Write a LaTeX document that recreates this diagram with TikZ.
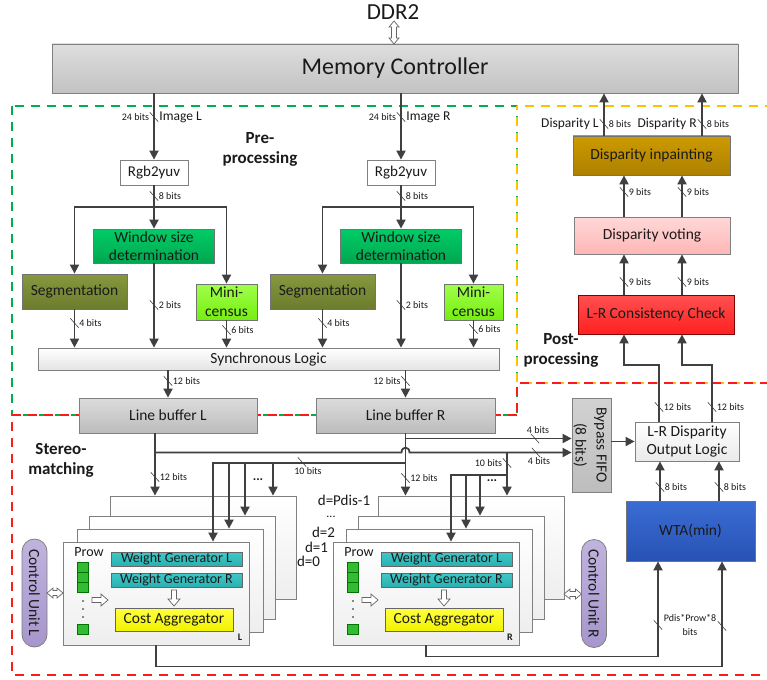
\documentclass[tikz,border=0pt]{standalone}
\usepackage{fontspec}
\setmainfont{Carlito}
\usetikzlibrary{arrows.meta,calc}
\definecolor{lineC}{HTML}{404040}
\definecolor{bordC}{HTML}{808080}
\definecolor{txtC}{HTML}{1A1A1A}
\definecolor{grnD}{HTML}{00B050}
\definecolor{orgD}{HTML}{FFC000}
\definecolor{redD}{HTML}{FF1A1A}
\definecolor{mcT}{HTML}{DEDEDE}\definecolor{mcB}{HTML}{C2C2C2}
\definecolor{winT}{HTML}{00CC66}\definecolor{winB}{HTML}{00A850}
\definecolor{segT}{HTML}{86983F}\definecolor{segB}{HTML}{6C7C2E}
\definecolor{mcsT}{HTML}{A0FF4A}\definecolor{mcsB}{HTML}{76EE10}
\definecolor{synT}{HTML}{FFFFFF}\definecolor{synB}{HTML}{E4E4E4}
\definecolor{lbT}{HTML}{DCDCDC}\definecolor{lbB}{HTML}{BCBCBC}
\definecolor{peT}{HTML}{FFFFFF}\definecolor{peB}{HTML}{EEEEEE}
\definecolor{wgT}{HTML}{40C8C8}\definecolor{wgB}{HTML}{2AB0B0}
\definecolor{caT}{HTML}{FFFF40}\definecolor{caB}{HTML}{F2F200}
\definecolor{cuT}{HTML}{C0B3DE}\definecolor{cuB}{HTML}{A696CC}
\definecolor{wtaT}{HTML}{3A6DD4}\definecolor{wtaB}{HTML}{2852B4}
\definecolor{olT}{HTML}{FFFFFF}\definecolor{olB}{HTML}{EAEAEA}
\definecolor{lrT}{HTML}{FF5050}\definecolor{lrB}{HTML}{FF2020}
\definecolor{voT}{HTML}{FFD8D8}\definecolor{voB}{HTML}{FFB6B6}
\definecolor{inT}{HTML}{CC9A00}\definecolor{inB}{HTML}{AD8000}
\definecolor{fiT}{HTML}{D2D2D2}\definecolor{fiB}{HTML}{BDBDBD}
\definecolor{sqC}{HTML}{33BB33}
\tikzset{
  box/.style={draw=bordC, line width=0.8pt, inner sep=0pt, align=center, text=txtC, font=\fontsize{15.5}{18}\selectfont},
  wh/.style 2 args={minimum width=#1pt, minimum height=#2pt},
  grad/.style 2 args={top color=#1, bottom color=#2},
  conn/.style={draw=lineC, line width=1.8pt, -{Triangle[length=9pt,width=9pt]}},
  slash/.style={minimum width=8pt, minimum height=9pt, inner sep=0pt, append after command={(\tikzlastnode.north west) edge[draw=lineC, line width=0.6pt] (\tikzlastnode.south east)}},
  bitlab/.style={font=\fontsize{10}{12}\selectfont, text=txtC, inner sep=0.5pt},
  imglab/.style={font=\fontsize{13.5}{16}\selectfont, text=txtC, inner sep=1pt},
  head/.style={font=\bfseries\fontsize{17}{20}\selectfont, text=txtC, align=center, inner sep=0pt},
  txt/.style={text=txtC, inner sep=0pt},
  hollow/.style={draw=black!60, line width=0.7pt, fill=white, line join=miter},
  dashbox/.style={line width=1.6pt, dash pattern=on 9pt off 7pt},
  sq/.style={draw=black!55!green, fill=sqC, minimum width=11pt, minimum height=10pt, inner sep=0pt, line width=0.6pt},
  pe/.style={box, wh={186}{103}, grad={peT}{peB}},
  cu/.style={box, wh={25}{108}, rounded corners=12.5pt, grad={cuT}{cuB}, draw=black!50}
}
\newcommand{\myHDbl}[3]{\draw[hollow] (#2,#1) -- (#2+6,#1-5) -- (#2+6,#1-2.5) -- (#3-6,#1-2.5) -- (#3-6,#1-5) -- (#3,#1) -- (#3-6,#1+5) -- (#3-6,#1+2.5) -- (#2+6,#1+2.5) -- (#2+6,#1+5) -- cycle;}
\newcommand{\myVDbl}[3]{\draw[hollow] (#1,#2) -- (#1+5,#2+6) -- (#1+2.5,#2+6) -- (#1+2.5,#3-6) -- (#1+5,#3-6) -- (#1,#3) -- (#1-5,#3-6) -- (#1-2.5,#3-6) -- (#1-2.5,#2+6) -- (#1-5,#2+6) -- cycle;}
\newcommand{\myRArr}[3]{\draw[hollow] (#2,#1-2.5) -- (#3-7,#1-2.5) -- (#3-7,#1-6) -- (#3,#1) -- (#3-7,#1+6) -- (#3-7,#1+2.5) -- (#2,#1+2.5) -- cycle;}
\newcommand{\myDArr}[3]{\draw[hollow] (#1-2.5,#2) -- (#1+2.5,#2) -- (#1+2.5,#3-7) -- (#1+6,#3-7) -- (#1,#3) -- (#1-6,#3-7) -- (#1-2.5,#3-7) -- cycle;}
\newcommand{\myPEin}[3]{%
  \node[txt, font=\fontsize{14}{16}\selectfont] (prow#1) at (89+#2,552) {Prow};
  \node[sq] (sqa#1) at (82.5+#2,567.5) {};
  \node[sq] (sqb#1) at (82.5+#2,577.5) {};
  \node[sq] (sqc#1) at (82.5+#2,587.5) {};
  \node[sq] (sqd#1) at (82.5+#2,629) {};
  \fill[txtC] (83+#2,601) circle (0.8pt) (83+#2,609) circle (0.8pt) (83+#2,617) circle (0.8pt);
  \myRArr{600}{92+#2}{108+#2}
  \node[box, wh={131}{14}, grad={wgT}{wgB}, draw=black!60, font=\fontsize{14}{16}\selectfont] (wgl#1) at (176.5+#2,559) {Weight Generator L};
  \node[box, wh={131}{14}, grad={wgT}{wgB}, draw=black!60, font=\fontsize{14}{16}\selectfont] (wgr#1) at (176.5+#2,580) {Weight Generator R};
  \myDArr{174+#2}{590}{606}
  \node[box, wh={118}{23}, grad={caT}{caB}, draw=black!60] (ca#1) at (174+#2,619.5) {Cost Aggregator};
  \node[txt, font=\bfseries\fontsize{10}{12}\selectfont] (let#1) at (240+#2,637) {#3};
}
\begin{document}
\begin{tikzpicture}[x=1pt,y=-1pt]
\useasboundingbox (0,0) rectangle (767,679);
\clip (0,0) rectangle (767,679);
\fill[white] (0,0) rectangle (767,679);

% regions
\draw[dashbox, draw=grnD] (12,106) rectangle (517,415);
\draw[dashbox, draw=orgD, dash phase=8pt] (517,106) -- (790,106) -- (790,383) -- (517,383) -- cycle;
\draw[dashbox, draw=redD] (517,415) -- (12,415) -- (12,675) -- (790,675) -- (790,383) -- (517,383) -- cycle;

% top
\node[txt, font=\fontsize{23}{26}\selectfont] (ddr) at (393,12) {DDR2};
\node[box, wh={686}{49}, grad={mcT}{mcB}, font=\fontsize{24}{28}\selectfont] (mc) at (395,68.5) {Memory Controller};
\myVDbl{394}{21}{44}

% pre-processing
\node[head] (pre) at (260,149) {Pre-\\processing};
\node[box, wh={68}{25}, fill=white, font=\fontsize{15}{18}\selectfont] (rgbL) at (154,172.5) {Rgb2yuv};
\node[box, wh={68}{25}, fill=white, font=\fontsize{15}{18}\selectfont] (rgbR) at (401,172.5) {Rgb2yuv};
\node[box, wh={121}{34}, grad={winT}{winB}, draw=black!55] (winL) at (154,246) {Window size\\determination};
\node[box, wh={121}{34}, grad={winT}{winB}, draw=black!55] (winR) at (401,246) {Window size\\determination};
\node[box, wh={105}{35}, grad={segT}{segB}, draw=black!55] (segL) at (74.5,291.5) {Segmentation};
\node[box, wh={105}{35}, grad={segT}{segB}, draw=black!55] (segR) at (322.5,291.5) {Segmentation};
\node[box, wh={61}{36}, grad={mcsT}{mcsB}, draw=black!55, font=\fontsize{15.5}{19}\selectfont] (mcsL) at (226.5,302) {Mini-\\census};
\node[box, wh={59}{36}, grad={mcsT}{mcsB}, draw=black!55, font=\fontsize{15.5}{19}\selectfont] (mcsR) at (473.5,302) {Mini-\\census};
\node[box, wh={461}{22}, grad={synT}{synB}] (sync) at (268.5,359) {Synchronous Logic};

\draw[conn] (rgbL |- mc.south) -- (rgbL.north);
\draw[conn] (rgbR |- mc.south) -- (rgbR.north);
\draw[conn] (rgbL.south) -- (winL.north);
\draw[conn] (rgbR.south) -- (winR.north);
\coordinate (bL) at (154,207);
\coordinate (bR) at (401,207);
\draw[conn] (bL) -| (segL.north);
\draw[conn] (bL) -| (mcsL.north);
\draw[conn] (bR) -| (segR.north);
\draw[conn] (bR) -| (mcsR.north);
\foreach \n in {segL,winL,mcsL,segR,winR,mcsR}{\draw[conn] (\n.south) -- (\n.south |- sync.north);}

\node[slash, label={[bitlab]left:24 bits}, label={[imglab]right:Image L}] (s1) at (154,117) {};
\node[slash, label={[bitlab]left:24 bits}, label={[imglab]right:Image R}] (s2) at (401,117) {};
\node[slash, label={[bitlab]right:8 bits}] (s3) at (154,196) {};
\node[slash, label={[bitlab]right:8 bits}] (s4) at (401,196) {};
\node[slash, label={[bitlab]right:4 bits}] (s5) at (74.5,323) {};
\node[slash, label={[bitlab]right:2 bits}] (s6) at (154,305) {};
\node[slash, label={[bitlab]right:6 bits}] (s7) at (226.5,330) {};
\node[slash, label={[bitlab]right:4 bits}] (s8) at (322.5,323) {};
\node[slash, label={[bitlab]right:2 bits}] (s9) at (401,305) {};
\node[slash, label={[bitlab]right:6 bits}] (s10) at (473.5,329) {};

% line buffers
\node[box, wh={178}{35}, grad={lbT}{lbB}] (lbL) at (168,415.5) {Line buffer L};
\node[box, wh={179}{35}, grad={lbT}{lbB}] (lbR) at (405.5,415.5) {Line buffer R};
\draw[conn] (lbL.north |- sync.south) -- (lbL.north);
\draw[conn] (lbR.north |- sync.south) -- (lbR.north);
\node[slash, label={[bitlab]right:12 bits}] (s11) at (168,381) {};
\node[slash, label={[bitlab]left:12 bits}] (s12) at (405.5,381) {};

\node[head] (stereo) at (61,460) {Stereo-\\matching};

% PE stacks
\node[pe] (peL4) at (203,547.5) {};
\node[pe] (peL3) at (182,567.5) {};
\node[pe] (peL2) at (170,580.5) {};
\node[pe] (peL1) at (156,593.5) {};
\node[pe] (peR4) at (471,547.5) {};
\node[pe] (peR3) at (451,567.5) {};
\node[pe] (peR2) at (439,580.5) {};
\node[pe] (peR1) at (426,593.5) {};
\myPEin{L}{0}{L}
\myPEin{R}{270}{R}

\node[txt, font=\fontsize{15}{18}\selectfont] (dP) at (344,500.5) {d=Pdis-1};
\node[txt, font=\fontsize{12}{14}\selectfont, text height=3pt, text depth=0pt] (dE) at (331,516) {...};
\node[txt, font=\fontsize{15}{18}\selectfont] (d2) at (323.5,532) {d=2};
\node[txt, font=\fontsize{15}{18}\selectfont] (d1) at (316.5,547) {d=1};
\node[txt, font=\fontsize{15}{18}\selectfont] (d0) at (308.5,561) {d=0};
\node[txt, font=\bfseries\fontsize{13}{15}\selectfont] (eL) at (258,480) {...};
\node[txt, font=\bfseries\fontsize{13}{15}\selectfont] (eR) at (492,481) {...};

% control units
\node[cu] (cuL) at (34.5,593) {};
\node[txt, rotate=-90, font=\fontsize{15.5}{18}\selectfont] (cuLt) at (cuL.center) {Control Unit L};
\node[cu] (cuR) at (594,593.5) {};
\node[txt, rotate=-90, font=\fontsize{15.5}{18}\selectfont] (cuRt) at (cuR.center) {Control Unit R};
\myHDbl{593}{47}{63}
\myHDbl{594}{564}{581.5}

% right side blocks
\node[box, wh={39}{94}, grad={fiT}{fiB}] (fifo) at (591.5,445) {};
\node[txt, rotate=-90, align=center, font=\fontsize{15.5}{21}\selectfont] (fifoT) at ($(fifo.center)+(-1.5,0)$) {Bypass FIFO\\(8 bits)};
\node[box, wh={104}{39}, grad={olT}{olB}] (ol) at (687,441.5) {L-R Disparity\\Output Logic};
\node[box, wh={129}{60}, grad={wtaT}{wtaB}, draw=black!55] (wta) at (690.5,531) {WTA(min)};
\node[box, wh={156}{39}, grad={lrT}{lrB}, draw=red!50!black] (lrcc) at (656,314.5) {L-R Consistency Check};
\node[box, wh={156}{37}, grad={voT}{voB}, draw=black!50] (vote) at (652,235.5) {Disparity voting};
\node[box, wh={157}{39}, grad={inT}{inB}, draw=black!55] (inp) at (651.5,155.5) {Disparity inpainting};
\node[head] (post) at (561,350.5) {Post-\\processing};

% stereo connectors
\coordinate (lbLo) at (155,433);
\coordinate (jL) at (155,452.5);
\coordinate (jR1) at (405.5,438.5);
\coordinate (jR2) at (405.5,463);
\coordinate (jR3) at (507,452.5);
\draw[conn] (lbLo) -- (lbLo |- peL4.north);
\draw[conn] (lbR.south) -- (lbR.south |- peR4.north);
\draw[conn] (jL) -- (401.5,452.5) .. controls (401.5,446) and (409.5,446) .. (409.5,452.5) -- (jL -| fifo.west);
\draw[conn] (jR1) -- (jR1 -| fifo.west);
\draw[conn] (fifo.east |- ol.west) -- (ol.west);
\coordinate (vL1) at (213,463);
\coordinate (vL2) at (229,463);
\coordinate (vL3) at (245,463);
\coordinate (vL4) at (273,463);
\draw[conn] (jR2) -- (vL1) -- (vL1 |- peL1.north);
\draw[conn] (vL2) -- (vL2 |- peL2.north);
\draw[conn] (vL3) -- (vL3 |- peL3.north);
\draw[conn] (vL4) -- (vL4 |- peL4.north);
\coordinate (hR) at (507,475);
\coordinate (vR1) at (451,475);
\coordinate (vR2) at (466,475);
\coordinate (vR3) at (480,475);
\draw[conn] (jR3) -- (jR3 |- peR4.north);
\draw[conn] (hR) -- (vR1) -- (vR1 |- peR1.north);
\draw[conn] (vR2) -- (vR2 |- peR2.north);
\draw[conn] (vR3) -- (vR3 |- peR3.north);
\node[slash, label={[bitlab]right:12 bits}] (s13) at (155,477) {};
\node[slash, label={[bitlab]right:12 bits}] (s14) at (405.5,478) {};
\node[slash, label={[bitlab,xshift=6pt]below:10 bits}] (s15) at (302,462) {};
\node[slash, label={[bitlab]left:10 bits}] (s16) at (507,463) {};
\node[slash, label={[bitlab,xshift=3pt]above:4 bits}] (s17) at (535,438.5) {};
\node[slash, label={[bitlab,xshift=3pt]below:4 bits}] (s18) at (536,452.5) {};

% outputs to WTA
\draw[conn] (peL1.south) -- ++(0,21) -| ($(wta.south)+(31.5,0)$);
\draw[conn] (peR1.south) -- ++(0,11) -| ($(wta.south)+(-32.5,0)$);
\node[slash] (s19) at (658,625) {};
\node[slash] (s20) at (722,626) {};
\node[txt, align=center, font=\fontsize{10}{14}\selectfont] (pdl) at (690,625) {Pdis*Prow*8\\bits};

% post-processing connectors
\draw[conn] ($(wta.north)+(-30.5,0)$) -- ($(ol.south)+(-27,0)$);
\draw[conn] ($(wta.north)+(28.5,0)$) -- ($(ol.south)+(32,0)$);
\node[slash, label={[bitlab]right:8 bits}] (s21) at (660,487) {};
\node[slash, label={[bitlab]right:8 bits}] (s22) at (719,487) {};
\draw[conn] ($(ol.north)+(-28,0)$) -- ++(0,-57) -| ($(lrcc.south)+(-32,0)$);
\draw[conn] ($(ol.north)+(25,0)$) -- ++(0,-57) -| ($(lrcc.south)+(26,0)$);
\node[slash, label={[bitlab]right:12 bits}] (s23) at (659,407) {};
\node[slash, label={[bitlab]right:12 bits}] (s24) at (712,407) {};
\draw[conn] ($(lrcc.north)+(-32,0)$) -- ($(vote.south)+(-28,0)$);
\draw[conn] ($(lrcc.north)+(26,0)$) -- ($(vote.south)+(30,0)$);
\node[slash, label={[bitlab]right:9 bits}] (s25) at (624,282) {};
\node[slash, label={[bitlab]right:9 bits}] (s26) at (682,282) {};
\draw[conn] ($(vote.north)+(-28,0)$) -- ($(inp.south)+(-27.5,0)$);
\draw[conn] ($(vote.north)+(30,0)$) -- ($(inp.south)+(30.5,0)$);
\node[slash, label={[bitlab]right:9 bits}] (s27) at (624,192) {};
\node[slash, label={[bitlab]right:9 bits}] (s28) at (682,192) {};
\coordinate (iA) at ($(inp.north)+(-47.5,0)$);
\coordinate (iB) at ($(inp.north)+(50.5,0)$);
\draw[conn] (iA) -- (iA |- mc.south);
\draw[conn] (iB) -- (iB |- mc.south);
\node[slash, label={[imglab]left:Disparity L}, label={[bitlab]right:8 bits}] (s29) at (604,124) {};
\node[slash, label={[imglab]left:Disparity R}, label={[bitlab]right:8 bits}] (s30) at (702,124) {};
\end{tikzpicture}
\end{document}
